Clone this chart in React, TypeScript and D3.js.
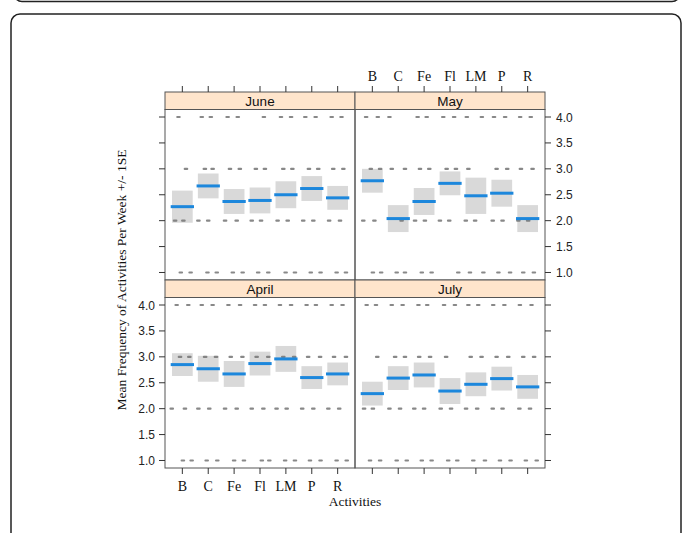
import React from "react";
import * as d3 from "d3";

const categories = ["B", "C", "Fe", "Fl", "LM", "P", "R"];
const yTicks = [1.0, 1.5, 2.0, 2.5, 3.0, 3.5, 4.0];
const levels = [1, 2, 3, 4];

// mean +/- 1SE per activity
const juneMeans = [2.27, 2.67, 2.37, 2.39, 2.5, 2.62, 2.44];
const juneSE = [0.31, 0.24, 0.24, 0.25, 0.26, 0.24, 0.23];
const mayMeans = [2.77, 2.04, 2.37, 2.72, 2.48, 2.53, 2.04];
const maySE = [0.23, 0.26, 0.26, 0.23, 0.35, 0.26, 0.26];
const aprilMeans = [2.85, 2.77, 2.67, 2.87, 2.96, 2.6, 2.67];
const aprilSE = [0.22, 0.25, 0.25, 0.23, 0.25, 0.22, 0.22];
const julyMeans = [2.29, 2.59, 2.65, 2.34, 2.47, 2.58, 2.42];
const julySE = [0.23, 0.23, 0.24, 0.25, 0.23, 0.23, 0.23];

// jittered raw responses: activity position (1..7 + jitter) for each answer level 1,2,3,4
const juneRaw = [
    [0.94, 1.32, 1.97, 2.33, 2.95, 3.33, 3.93, 4.32, 4.99, 5.35, 5.96, 6.34, 6.96, 7.32],
    [0.72, 1.04, 1.62, 2.0, 2.65, 3.1, 3.68, 4.04, 4.68, 5.07, 5.67, 6.06, 6.67, 7.09],
    [1.14, 1.87, 2.17, 2.84, 3.22, 3.84, 4.19, 4.9, 5.25, 5.89, 6.25, 6.83, 7.22],
    [0.85, 1.75, 2.1, 2.75, 3.14, 4.15, 4.81, 5.2, 5.75, 6.15, 6.77, 7.15],
];
const mayRaw = [
    [1.02, 1.34, 1.94, 2.26, 2.91, 3.29, 4.32, 4.77, 5.29, 5.87, 6.32, 6.83, 7.24],
    [0.65, 1.08, 2.13, 2.65, 3.03, 3.61, 3.97, 4.61, 4.97, 5.65, 6.03, 6.64, 7.02],
    [0.94, 1.3, 1.75, 2.26, 2.84, 3.2, 3.87, 4.23, 4.71, 5.8, 6.21, 6.74, 7.19],
    [0.76, 1.21, 1.66, 2.75, 3.1, 3.74, 4.16, 4.65, 5.23, 5.7, 6.13, 6.71, 7.12],
];
const aprilRaw = [
    [1.02, 1.36, 1.94, 2.35, 3.0, 3.38, 4.07, 4.36, 4.97, 5.35, 5.93, 6.34, 6.96, 7.35],
    [0.59, 1.1, 1.62, 2.04, 2.65, 3.1, 3.68, 4.13, 4.64, 5.03, 5.63, 6.06, 6.64, 7.06],
    [0.91, 1.27, 1.88, 2.3, 2.87, 3.32, 3.87, 4.32, 4.9, 5.32, 5.86, 6.32, 6.86, 7.32],
    [0.78, 1.23, 1.75, 2.17, 2.78, 3.23, 3.81, 4.19, 4.77, 5.2, 5.8, 6.16, 6.77, 7.19],
];
const julyRaw = [
    [0.91, 1.3, 1.94, 2.33, 2.91, 3.29, 3.93, 4.28, 4.9, 5.35, 5.93, 6.34, 6.93, 7.35],
    [0.68, 1.02, 1.66, 2.07, 2.62, 3.0, 3.64, 4.04, 4.62, 5.05, 5.65, 6.03, 6.68, 7.09],
    [1.19, 1.88, 2.26, 2.81, 3.23, 3.85, 4.8, 5.22, 5.8, 6.25, 6.83, 7.25],
    [0.78, 1.14, 1.75, 2.17, 2.78, 3.12, 3.77, 4.19, 4.71, 5.09, 5.67, 6.1, 6.7, 7.15],
];

const panels = [
    { name: "June", means: juneMeans, se: juneSE, raw: juneRaw, col: 0, row: 0 },
    { name: "May", means: mayMeans, se: maySE, raw: mayRaw, col: 1, row: 0 },
    { name: "April", means: aprilMeans, se: aprilSE, raw: aprilRaw, col: 0, row: 1 },
    { name: "July", means: julyMeans, se: julySE, raw: julyRaw, col: 1, row: 1 },
];

const W = 683;
const H = 533;
const left = 165;
const panelW = 190;
const top = 92;
const stripH = 17.5;
const panelH = 170.5;
const tick = 6;

const serif = "'Liberation Serif', 'Times New Roman', serif";
const sans = "'Liberation Sans', Arial, sans-serif";
const axisCol = "#333";
const blue = "#1c87dc";

const Panel = ({ p }) => {
    const x0 = left + p.col * panelW;
    const y0 = top + p.row * (stripH + panelH);
    const py = y0 + stripH;

    const x = d3.scaleLinear().domain([0.33, 7.67]).range([x0, x0 + panelW]);
    const y = d3.scaleLinear().domain([0.855, 4.145]).range([py + panelH, py]);
    const idx = d3.range(1, categories.length + 1);

    return (
        <g className="panel">
            {/* strip */}
            <rect x={x0} y={y0} width={panelW} height={stripH} fill="#ffe5cc" stroke="#555" strokeWidth={1} />
            <text x={x0 + panelW / 2} y={y0 + stripH - 4} textAnchor="middle" fontFamily={sans} fontSize={13.5} fill="#111">
                {p.name}
            </text>

            {/* SE boxes */}
            {p.means.map((m, i) => (
                <rect key={"b" + i}
                    x={x(idx[i] - 0.4)} width={x(idx[i] + 0.4) - x(idx[i] - 0.4)}
                    y={y(m + p.se[i])} height={y(m - p.se[i]) - y(m + p.se[i])}
                    fill="#d9d9d9"
                />
            ))}

            {/* raw answers */}
            {p.raw.map((row, li) => row.map((v, j) => (
                <rect key={"d" + li + "-" + j}
                    x={x(v) - 2.3} y={y(levels[li]) - 1.1} width={4.6} height={2.2} rx={1}
                    fill="#737373" opacity={0.85}
                />
            )))}

            {/* means */}
            {p.means.map((m, i) => (
                <line key={"m" + i}
                    x1={x(idx[i] - 0.45)} x2={x(idx[i] + 0.45)} y1={y(m)} y2={y(m)}
                    stroke={blue} strokeWidth={3}
                />
            ))}

            <rect x={x0} y={py} width={panelW} height={panelH} fill="none" stroke="#555" strokeWidth={1} />

            {/* left ticks */}
            {p.col === 0 && yTicks.map((t) => (
                <g key={"l" + t}>
                    <line x1={x0 - tick} x2={x0} y1={y(t)} y2={y(t)} stroke={axisCol} />
                    {p.row === 1 &&
                        <text x={x0 - tick - 4} y={y(t) + 4.5} textAnchor="end" fontFamily={sans} fontSize={12} fill="#222">
                            {t.toFixed(1)}
                        </text>}
                </g>
            ))}
            {/* right ticks */}
            {p.col === 1 && yTicks.map((t) => (
                <g key={"r" + t}>
                    <line x1={x0 + panelW} x2={x0 + panelW + tick} y1={y(t)} y2={y(t)} stroke={axisCol} />
                    {p.row === 0 &&
                        <text x={x0 + panelW + tick + 5} y={y(t) + 4.5} fontFamily={sans} fontSize={12} fill="#222">
                            {t.toFixed(1)}
                        </text>}
                </g>
            ))}
            {/* top ticks */}
            {p.row === 0 && idx.map((c, i) => (
                <g key={"t" + c}>
                    <line x1={x(c)} x2={x(c)} y1={y0 - tick} y2={y0} stroke={axisCol} />
                    {p.col === 1 &&
                        <text x={x(c)} y={y0 - tick - 5} textAnchor="middle" fontFamily={serif} fontSize={14} fill="#111">
                            {categories[i]}
                        </text>}
                </g>
            ))}
            {/* bottom ticks */}
            {p.row === 1 && idx.map((c, i) => (
                <g key={"bt" + c}>
                    <line x1={x(c)} x2={x(c)} y1={py + panelH} y2={py + panelH + tick} stroke={axisCol} />
                    {p.col === 0 &&
                        <text x={x(c)} y={py + panelH + tick + 17} textAnchor="middle" fontFamily={serif} fontSize={14} fill="#111">
                            {categories[i]}
                        </text>}
                </g>
            ))}
        </g>
    );
};

const App = () => {
    // y title sits around the middle of the whole panel block
    const midY = top + stripH + panelH;
    return (
        <svg width={W} height={H} style={{ position: "absolute", left: 0, top: 0, background: "#fff" }}>
            {/* page frames */}
            <rect x={14} y={-30} width={666} height={31.5} rx={8} fill="none" stroke="#222" strokeWidth={1.5} />
            <rect x={11} y={14} width={670} height={600} rx={9} fill="none" stroke="#222" strokeWidth={1.5} />

            {panels.map((p) => <Panel key={p.name} p={p} />)}

            <text x={left + panelW} y={506} textAnchor="middle" fontFamily={serif} fontSize={13.5} fill="#111">
                Activities
            </text>
            <text transform={`translate(126 ${midY}) rotate(-90)`} textAnchor="middle" fontFamily={serif} fontSize={13.5} fill="#111">
                Mean Frequency of Activities Per Week +/- 1SE
            </text>
        </svg>
    );
};

export default App;
